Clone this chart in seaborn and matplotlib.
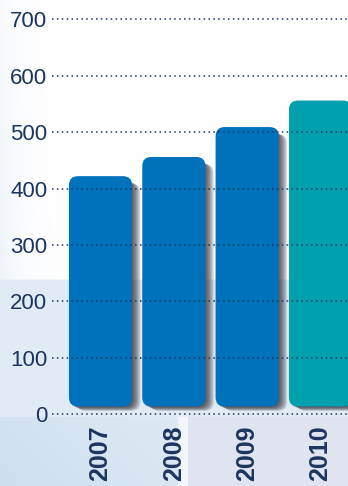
import numpy as np
import matplotlib
matplotlib.use("Agg")
import matplotlib.pyplot as plt
import seaborn as sns
import pandas as pd
from matplotlib.patches import FancyBboxPatch

# ---- data ----
years = ["2007", "2008", "2009", "2010"]
values = [422, 456, 509, 556]
bar_colors = ["#0072bc", "#0072bc", "#0072bc", "#00a0ae"]
yticks = [0, 100, 200, 300, 400, 500, 600, 700]

BAR_BASE = 14          # bars float slightly above the zero line
NAVY = "#1b355f"

W, H, DPI = 348, 486, 100
sns.set_theme(style="white")
plt.rcParams["font.family"] = ["Liberation Sans", "DejaVu Sans"]

fig = plt.figure(figsize=(W / DPI, H / DPI), dpi=DPI)

# ---- background image ----
bg_ax = fig.add_axes([0, 0, 1, 1], zorder=-10)
yy, xx = np.mgrid[0:H, 0:W].astype(float)
img = np.ones((H, W, 3))
tint = np.array([0.91, 0.935, 0.97])
f = np.exp(-xx / 22.0) * (0.3 + 0.7 * yy / H)
img = img * (1 - f[..., None]) + tint * f[..., None]
band = np.array([0.88, 0.922, 0.962])
m = (yy >= 280)
img[m] = band
lb = np.array([0.86, 0.91, 0.955])
lb2 = np.array([0.80, 0.875, 0.935])
g = np.clip(((H - yy) + xx) / 200.0, 0, 1)
low = lb2 * (1 - g[..., None]) + lb * g[..., None]
mlow = (yy >= 417) & (xx < 178)
img[mlow] = low[mlow]
img[(yy >= 417) & (xx >= 178) & (xx < 188)] = np.array([0.95, 0.965, 0.985])
img[(yy >= 417) & (xx >= 188)] = np.array([0.882, 0.898, 0.949])
bg_ax.imshow(img, extent=[0, 1, 0, 1], aspect="auto", interpolation="bilinear")
bg_ax.axis("off")

# ---- main axes ----
ax_left_px, ax_bottom_px = 52, 420
ax = fig.add_axes([ax_left_px / W, (H - ax_bottom_px) / H, 1 - ax_left_px / W, ax_bottom_px / H])
ax.set_facecolor("none")

df = pd.DataFrame({"year": years, "value": values})
sns.barplot(data=df, x="year", y="value", hue="year", palette=bar_colors,
            width=0.86, legend=False, ax=ax, saturation=1)

px_per_unit = 56.43
ax.set_ylim(-(ax_bottom_px - 414.3) / px_per_unit * 100, 414.3 / px_per_unit * 100)
spacing = 73.33
ax.set_xlim((ax_left_px - 100.5) / spacing, (W - 100.5) / spacing)

# convert bars to rounded bars with soft shadow
xpp = (ax.get_xlim()[1] - ax.get_xlim()[0]) / (W - ax_left_px)   # x units per pixel
ypp = (ax.get_ylim()[1] - ax.get_ylim()[0]) / ax_bottom_px       # y units per pixel
aspect = ypp / xpp
r_px = 9
for p in list(ax.patches):
    x0, w, h = p.get_x(), p.get_width(), p.get_height()
    col = p.get_facecolor()
    p.remove()
    # shadow layers
    for k in range(1, 11):
        sh = FancyBboxPatch((x0 - 1 * xpp + k * 0.95 * xpp, BAR_BASE - k * 0.45 * ypp),
                            w, h - BAR_BASE - 3 * ypp,
                            boxstyle=f"round,pad=0,rounding_size={r_px * xpp}",
                            mutation_aspect=aspect, facecolor="#2a2a34",
                            edgecolor="none", alpha=0.13, zorder=1)
        ax.add_patch(sh)
    bar = FancyBboxPatch((x0, BAR_BASE), w, h - BAR_BASE,
                         boxstyle=f"round,pad=0,rounding_size={r_px * xpp}",
                         mutation_aspect=aspect, facecolor=col,
                         edgecolor="none", zorder=2)
    ax.add_patch(bar)

# dotted grid on top
for t in yticks:
    ax.axhline(t, color=NAVY, linestyle=(0, (1, 2.2)), linewidth=1.1, zorder=5)

ax.set_yticks(yticks)
ax.set_yticklabels([str(t) for t in yticks], fontsize=16, color=NAVY)
ax.tick_params(axis="y", length=0, pad=3.5)
ax.set_xticks(range(len(years)))
ax.set_xticklabels(years, rotation=90, fontsize=18, fontweight="bold", color=NAVY,
                   va="top", ha="center")
ax.tick_params(axis="x", length=0, pad=4)
ax.set_xlabel("")
ax.set_ylabel("")
for s in ax.spines.values():
    s.set_visible(False)
ax.grid(False)

fig.savefig("out.png", dpi=DPI)
